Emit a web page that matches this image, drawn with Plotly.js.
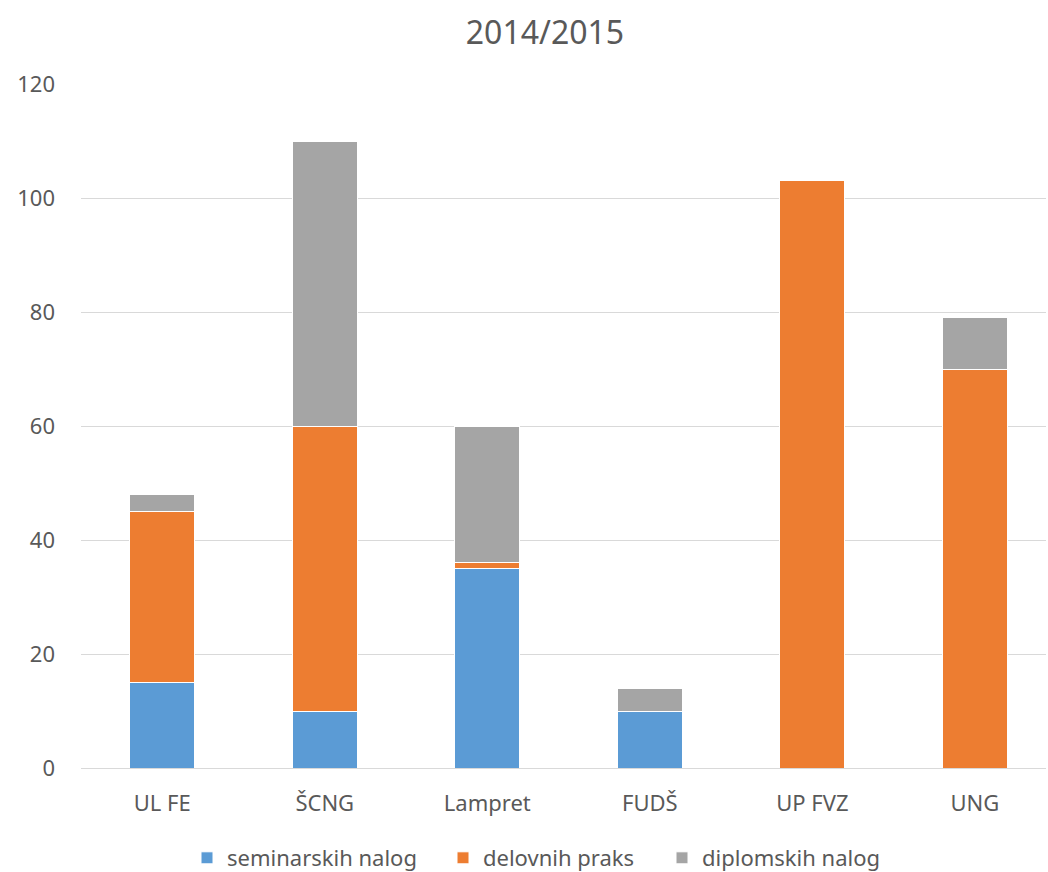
<!DOCTYPE html>
<html>
<head>
<meta charset="utf-8">
<script src="https://cdn.plot.ly/plotly-3.0.1.min.js"></script>
<style>
  html, body { margin: 0; padding: 0; background: #fff; }
  #chart { width: 1048px; height: 872px; }
</style>
</head>
<body>
<div id="chart"></div>
<script>
const categories = ['UL FE', 'ŠCNG', 'Lampret', 'FUDŠ', 'UP FVZ', 'UNG'];
const seminarskih = [15, 10, 35, 10, 0, 0];
const delovnih = [30, 50, 1, 0, 103, 70];
const diplomskih = [3, 50, 24, 4, 0, 9];
const yTicks = [0, 20, 40, 60, 80, 100, 120];

const textColor = '#595959';
const font = 'Noto Sans, Open Sans, sans-serif';

function barTrace(name, values, color, legendId) {
    return {
        type: 'bar',
        name: name,
        x: categories,
        y: values,
        width: 0.4,
        legend: legendId,
        marker: { color: color, line: { color: '#ffffff', width: 1 } },
        hoverinfo: 'none'
    };
}

const data = [
    barTrace('seminarskih nalog', seminarskih, '#5B9BD5', 'legend'),
    barTrace('delovnih praks', delovnih, '#ED7D31', 'legend2'),
    barTrace('diplomskih nalog', diplomskih, '#A5A5A5', 'legend3')
];

// one legend per series so each entry sits where the reference has it
function legendAt(px) {
    return {
        orientation: 'h',
        xref: 'container',
        yref: 'container',
        x: px / 1048,
        xanchor: 'left',
        y: 1 - 858 / 872,
        yanchor: 'middle',
        bgcolor: 'rgba(0,0,0,0)',
        font: { size: 22, color: textColor },
        itemclick: false
    };
}

const layout = {
    width: 1048,
    height: 872,
    barmode: 'stack',
    paper_bgcolor: '#ffffff',
    plot_bgcolor: '#ffffff',
    font: { family: font, color: textColor, size: 22 },
    margin: { l: 81, r: 2, t: 84, b: 104 },
    title: {
        text: '2014/2015',
        font: { size: 32, color: textColor, family: font },
        x: 0.52,
        xref: 'container',
        xanchor: 'center',
        y: 1 - 33 / 872,
        yref: 'container',
        yanchor: 'middle'
    },
    xaxis: {
        type: 'category',
        range: [-0.5, 5.438],
        showgrid: false,
        showline: false,
        zeroline: false,
        ticks: '',
        ticklabelstandoff: 20,
        tickfont: { size: 22, color: textColor }
    },
    yaxis: {
        range: [0, 120],
        tickvals: yTicks,
        ticktext: yTicks.map(String),
        showgrid: true,
        gridcolor: '#D9D9D9',
        gridwidth: 1,
        zeroline: true,
        zerolinecolor: '#D9D9D9',
        zerolinewidth: 1,
        showline: false,
        ticks: '',
        ticklabelstandoff: 25,
        tickfont: { size: 22, color: textColor }
    },
    showlegend: true,
    legend: legendAt(187),
    legend2: legendAt(443),
    legend3: legendAt(662)
};

Plotly.newPlot('chart', data, layout, { staticPlot: true });
</script>
</body>
</html>
